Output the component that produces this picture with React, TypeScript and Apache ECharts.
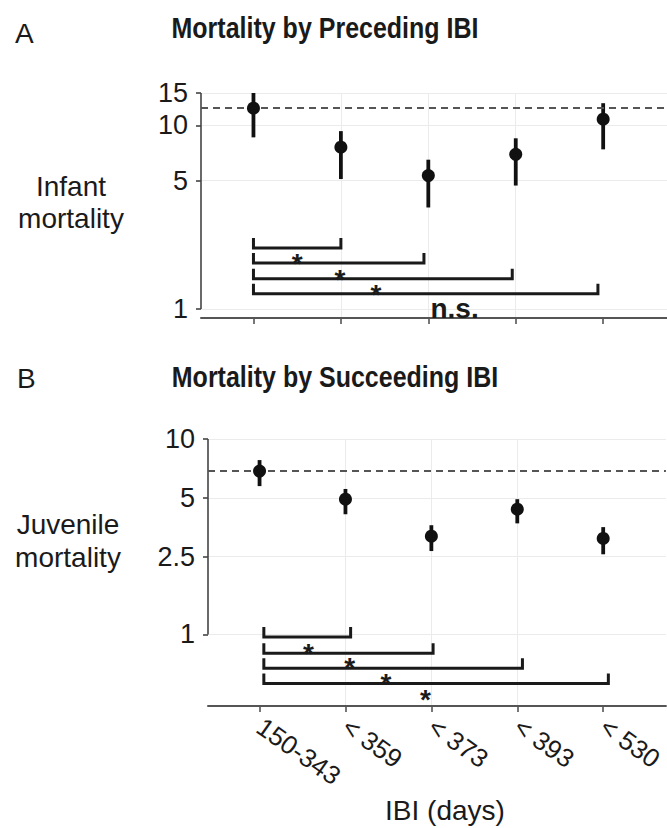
import React, { useEffect, useRef } from "react";
import * as echarts from "echarts";

const categories = ["150-343", "< 359", "< 373", "< 393", "< 530"];

const infantMean = [12.4, 7.6, 5.33, 6.95, 10.8];
const infantLow = [8.6, 5.1, 3.57, 4.7, 7.4];
const infantHigh = [15, 9.3, 6.5, 8.5, 13.2];
const infantRef = 12.4;
const infantTicks = [1, 5, 10, 15];

const juvMean = [6.85, 4.92, 3.18, 4.37, 3.1];
const juvLow = [5.74, 4.12, 2.67, 3.7, 2.57];
const juvHigh = [7.8, 5.55, 3.62, 4.92, 3.54];
const juvRef = 6.85;
const juvTicks = [1, 2.5, 5, 10];

// brackets: [from, to, y]
const infantBrackets = [
  [0, 1.0, 2.15],
  [0, 1.95, 1.78],
  [0, 2.96, 1.46],
  [0, 3.94, 1.21],
];
const infantSig = [
  [0.5, 1.92, "*"],
  [0.99, 1.57, "*"],
  [1.4, 1.3, "*"],
  [2.3, 1.01, "n.s."],
];
const juvBrackets = [
  [0.05, 1.06, 0.97],
  [0.05, 2.02, 0.8],
  [0.05, 3.06, 0.67],
  [0.05, 4.06, 0.56],
];
const juvSig = [
  [0.57, 0.86, "*"],
  [1.05, 0.73, "*"],
  [1.47, 0.605, "*"],
  [1.93, 0.5, "*"],
];

const X_MIN = -0.6;
const X_MAX = 4.73;
const catIdx = categories.map((_, i) => i);

const FONT = '"Liberation Sans", Arial, Helvetica, sans-serif';
const INK = "#1a1a1a";
const GRIDC = "#ebebeb";
const AXC = "#444";

function buildPanel(gi: number, mean: number[], low: number[], high: number[], ref: number, ticks: number[], brackets: any[], sig: any[], yMax: number) {
  const series: any[] = [];
  series.push({
    type: "line",
    xAxisIndex: gi,
    yAxisIndex: gi,
    data: [[X_MIN, ticks[0]], [X_MIN, yMax]],
    symbol: "none",
    clip: false,
    silent: true,
    lineStyle: { color: AXC, width: 1.6 },
    z: 3,
  });
  series.push({
    type: "custom",
    xAxisIndex: gi,
    yAxisIndex: gi,
    data: catIdx.map((i) => [i, low[i], high[i]]),
    clip: false,
    renderItem: (params: any, api: any) => {
      const x = api.value(0);
      const a = api.coord([x, api.value(1)]);
      const b = api.coord([x, api.value(2)]);
      return {
        type: "line",
        shape: { x1: a[0], y1: a[1], x2: b[0], y2: b[1] },
        style: { stroke: "#111", lineWidth: 3.8 },
      };
    },
    z: 4,
  });
  series.push({
    type: "scatter",
    xAxisIndex: gi,
    yAxisIndex: gi,
    data: catIdx.map((i) => [i, mean[i]]),
    symbolSize: 13,
    itemStyle: { color: "#111", opacity: 1 },
    clip: false,
    z: 5,
    markLine: {
      silent: true,
      symbol: ["none", "none"],
      label: { show: false },
      lineStyle: { type: [7, 5], color: "#555", width: 2 },
      data: [{ yAxis: ref }],
    },
  });
  series.push({
    type: "custom",
    xAxisIndex: gi,
    yAxisIndex: gi,
    data: brackets,
    clip: false,
    renderItem: (params: any, api: any) => {
      const y = api.value(2);
      const a = api.coord([api.value(0), y]);
      const b = api.coord([api.value(1), y]);
      return {
        type: "polyline",
        shape: { points: [[a[0], a[1] - 10], [a[0], a[1]], [b[0], b[1]], [b[0], b[1] - 10]] },
        style: { stroke: INK, lineWidth: 3, fill: null },
      };
    },
    z: 4,
  });
  series.push({
    type: "custom",
    xAxisIndex: gi,
    yAxisIndex: gi,
    data: sig,
    clip: false,
    renderItem: (params: any, api: any) => {
      const d = sig[params.dataIndex];
      const p = api.coord([d[0], d[1]]);
      const star = d[2] === "*";
      const fs = 28;
      return {
        type: "text",
        x: p[0],
        y: p[1] + (star ? 0.22 * fs : 0),
        style: {
          text: d[2],
          fontSize: fs,
          fontWeight: "bold",
          fontFamily: FONT,
          fill: INK,
          align: "center",
          verticalAlign: "middle",
        },
      };
    },
    z: 6,
  });
  return series;
}

export default function App() {
  const ref = useRef<HTMLDivElement>(null);
  useEffect(() => {
    if (!ref.current) return;
    const chart = echarts.init(ref.current, null, { renderer: "svg" });
    const xAxisBase = (gi: number, showLabels: boolean) => ({
      type: "value",
      gridIndex: gi,
      min: X_MIN,
      max: X_MAX,
      axisLine: { show: true, onZero: false, lineStyle: { color: "#555", width: 2 } },
      axisTick: { show: true, customValues: catIdx, length: 6, lineStyle: { color: "#555", width: 1.6 } },
      splitLine: { show: true, showMinLine: false, showMaxLine: false, lineStyle: { color: GRIDC, width: 1 } },
      axisLabel: showLabels
        ? {
            show: true,
            customValues: catIdx,
            formatter: (v: number) => categories[Math.round(v)] ?? "",
            rotate: -35,
            margin: 18,
            fontSize: 26,
            color: INK,
            fontFamily: FONT,
          }
        : { show: false },
    });
    const yAxisBase = (gi: number, min: number, max: number, ticks: number[]) => ({
      type: "log",
      logBase: 10,
      gridIndex: gi,
      min,
      max,
      axisLine: { show: false, onZero: false },
      axisTick: { show: true, customValues: ticks, length: 5, lineStyle: { color: AXC, width: 1.6 } },
      splitLine: { show: true, lineStyle: { color: GRIDC, width: 1 } },
      axisLabel: {
        show: true,
        customValues: ticks,
        margin: 13,
        fontSize: 27,
        color: INK,
        fontFamily: FONT,
        formatter: (v: number) => String(v),
      },
    });
    const txt = (text: string, x: number, y: number, opts: any = {}, extra: any = {}) => ({
      type: "text",
      x,
      y,
      ...extra,
      style: {
        text,
        fontSize: 28,
        fontFamily: FONT,
        fill: INK,
        align: "center",
        verticalAlign: "middle",
        ...opts,
      },
    });
    const option: any = {
      animation: false,
      backgroundColor: "#ffffff",
      grid: [
        { left: 201, top: 93, width: 466, height: 225 },
        { left: 208, top: 439, width: 459, height: 267 },
      ],
      xAxis: [xAxisBase(0, false), xAxisBase(1, true)],
      yAxis: [yAxisBase(0, 0.893, 15, infantTicks), yAxisBase(1, 0.43, 10, juvTicks)],
      series: [
        ...buildPanel(0, infantMean, infantLow, infantHigh, infantRef, infantTicks, infantBrackets, infantSig, 15),
        ...buildPanel(1, juvMean, juvLow, juvHigh, juvRef, juvTicks, juvBrackets, juvSig, 10),
      ],
      graphic: [
        txt("A", 15, 33, { align: "left" }),
        txt("Mortality by Preceding IBI", 325, 28, { fontWeight: "bold", fontSize: 25 }, { scaleY: 1.2 }),
        txt("B", 17, 378, { align: "left" }),
        txt("Mortality by Succeeding IBI", 335, 377, { fontWeight: "bold", fontSize: 25 }, { scaleY: 1.2 }),
        txt("Infant\nmortality", 71, 202, { lineHeight: 32 }),
        txt("Juvenile\nmortality", 68, 541, { lineHeight: 33 }),
        txt("IBI (days)", 445, 810),
      ],
    };
    chart.setOption(option);
    return () => chart.dispose();
  }, []);
  return <div ref={ref} style={{ position: "fixed", left: 0, top: 0, width: 667, height: 828 }} />;
}
